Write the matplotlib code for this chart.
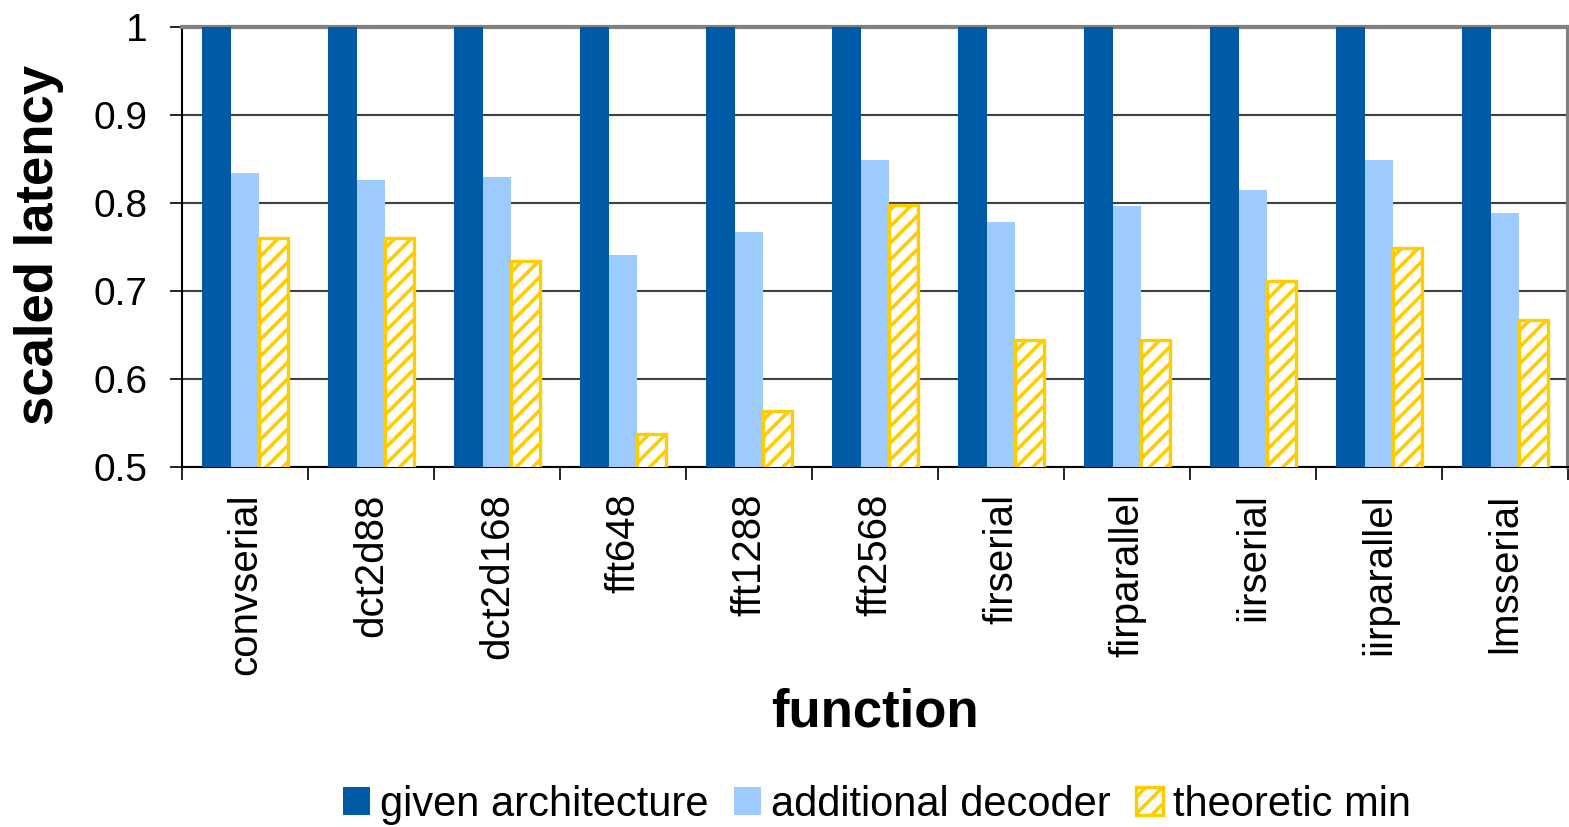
import matplotlib
matplotlib.use("Agg")
import matplotlib.pyplot as plt
import numpy as np

plt.rcParams["font.family"] = ["Liberation Sans", "DejaVu Sans"]
plt.rcParams["hatch.linewidth"] = 2.6

functions = ["convserial", "dct2d88", "dct2d168", "fft648", "fft1288", "fft2568",
             "firserial", "firparallel", "iirserial", "iirparallel", "lmsserial"]
given_arch = [1.0] * 11
additional_decoder = [0.834, 0.826, 0.830, 0.741, 0.767, 0.849,
                      0.778, 0.797, 0.815, 0.849, 0.789]
theoretic_min = [0.760, 0.760, 0.734, 0.538, 0.564, 0.798,
                 0.644, 0.644, 0.711, 0.749, 0.667]

fig = plt.figure(figsize=(15.69, 8.27), dpi=100)
ax = fig.add_axes([182 / 1569, 1 - 467 / 827, 1386 / 1569, 440 / 827])

x = np.arange(len(functions))
w = 0.225
ax.bar(x - w, given_arch, w, color="#005AA5", label="given architecture", zorder=3)
ax.bar(x, additional_decoder, w, color="#9DCBFD", label="additional decoder", zorder=3)
ax.bar(x + w, theoretic_min, w, color="white", edgecolor="#FFCC00", hatch="//",
       linewidth=2.4, label="theoretic min", zorder=3)

ax.set_xlim(-0.5, len(functions) - 0.5)
ax.set_ylim(0.5, 1.0)
ax.set_yticks([0.5, 0.6, 0.7, 0.8, 0.9, 1.0])
ax.set_yticklabels(["0.5", "0.6", "0.7", "0.8", "0.9", "1"])
ax.yaxis.grid(True, color="#404040", linewidth=1.5, zorder=0)

ax.set_xticks(x)
ax.set_xticklabels(functions, rotation=90)
ax.set_xticks(np.arange(len(functions) + 1) - 0.5, minor=True)
ax.tick_params(axis="x", which="major", length=0, pad=19, labelsize=29)
ax.tick_params(axis="x", which="minor", length=9, width=1.2, direction="out")
ax.tick_params(axis="y", length=8.6, width=1.2, labelsize=28, pad=16)

for side in ["top", "right"]:
    ax.spines[side].set_color("#808080")
    ax.spines[side].set_linewidth(3)
ax.spines["left"].set_linewidth(1.5)
ax.spines["bottom"].set_linewidth(1.5)

ax.set_xlabel("function", fontsize=38, fontweight="bold")
ax.xaxis.set_label_coords(0.5, -0.50)
ax.set_ylabel("scaled latency", fontsize=38, fontweight="bold")
ax.yaxis.set_label_coords(-0.085, 0.505)

fig.legend(loc="center", bbox_to_anchor=(877 / 1569, 1 - 805 / 827), ncol=3,
           frameon=False, fontsize=30, handlelength=0.65, handleheight=0.65,
           handletextpad=0.25, columnspacing=0.6)

fig.savefig("out.png", dpi=100)
